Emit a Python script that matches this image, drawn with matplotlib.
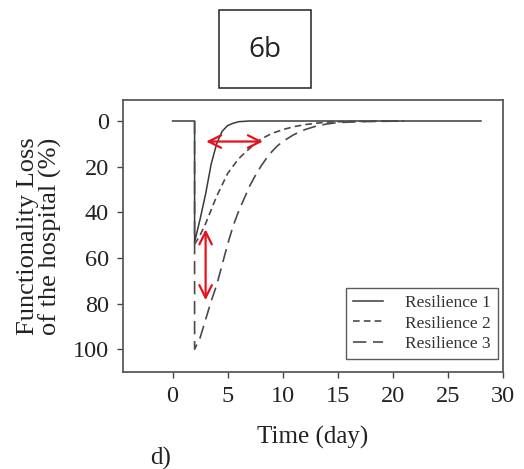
import matplotlib
matplotlib.use('Agg')
import matplotlib.pyplot as plt
from matplotlib.patches import Rectangle

# Curvas de perda de funcionalidade do hospital (% de perda x dias)
tempo1 = [0, 2, 2, 2.5, 3, 3.5, 4, 4.5, 5, 5.5, 6, 7, 10, 28]
perda1 = [0, 0, 53, 43, 32, 19, 10, 4.5, 2, 1, 0.3, 0, 0, 0]

tempo2 = [2, 2.5, 3, 3.5, 4, 4.5, 5, 6, 7, 8, 9, 10, 11, 12, 13, 14, 16, 18, 21]
perda2 = [54, 50, 45, 39, 33, 28, 23, 16.5, 12, 8, 5.5, 3.8, 2.5, 1.6, 1, 0.5, 0.2, 0.1, 0]

tempo3 = [2, 2, 2.5, 3, 3.5, 4, 4.5, 5, 5.5, 6, 6.5, 7, 7.5, 8, 8.5, 9, 9.5, 10, 11, 12, 13, 14, 15, 17, 21]
perda3 = [0, 100, 95, 87, 79, 72, 63, 54, 46, 39.5, 34, 28.5, 24, 20, 16.5, 13.5, 11, 9, 6, 3.8, 2.3, 1.3, 0.7, 0.3, 0]

nomes = ['Resilience 1', 'Resilience 2', 'Resilience 3']
xticks = [0, 5, 10, 15, 20, 25, 30]
yticks = [0, 20, 40, 60, 80, 100]

fig = plt.figure(figsize=(5.24, 4.69), dpi=100)
ax = fig.add_axes([123 / 524, 1 - 372 / 469, 380 / 524, 272 / 469])

serif = 'Liberation Serif'

ax.plot(tempo1, perda1, color='#3a3a3a', lw=1.1, label=nomes[0])
ax.plot(tempo2, perda2, color='#4a4a4a', lw=1.2, dashes=(4, 2.5), label=nomes[1])
ax.plot(tempo3, perda3, color='#4a4a4a', lw=1.2, dashes=(8, 4), label=nomes[2])

# Setas vermelhas
seta = dict(arrowstyle='<->,head_length=0.9,head_width=0.45', color='#e8101a', lw=1.6,
            shrinkA=0, shrinkB=0)
ax.annotate('', xy=(3.05, 9), xytext=(8.2, 9), arrowprops=seta)
ax.annotate('', xy=(3.0, 47.5), xytext=(3.0, 78.5), arrowprops=seta)

ax.set_xlim(-4.5, 30)
ax.set_ylim(110, -9.2)
ax.set_xticks(xticks)
ax.set_yticks(yticks)
ax.tick_params(direction='out', length=4, width=1, color='#444444', labelsize=17.5, pad=6)
for lbl in ax.get_xticklabels() + ax.get_yticklabels():
    lbl.set_fontfamily(serif)
    lbl.set_color('#222222')
for s in ax.spines.values():
    s.set_color('#5a5a5a')
    s.set_linewidth(1.3)

ax.set_xlabel('Time (day)', fontfamily=serif, fontsize=18, color='#222222', labelpad=14)
ax.set_ylabel('Functionality Loss\nof the hospital (%)', fontfamily=serif, fontsize=19,
              color='#222222', labelpad=8, linespacing=0.95)

leg = ax.legend(loc='lower right', bbox_to_anchor=(498 / 380 - 123 / 380, (372 - 359) / 272),
                bbox_transform=ax.transAxes, prop={'family': serif, 'size': 12.5},
                frameon=True, fancybox=False, edgecolor='#333333', handlelength=1.7,
                handletextpad=1.3, borderpad=0.4, labelspacing=0.25, borderaxespad=0)
leg.get_frame().set_linewidth(1.0)
for t in leg.get_texts():
    t.set_color('#333333')

# Caixa do rótulo "6b"
fig.patches.append(Rectangle((219 / 524, 1 - 88 / 469), 92 / 524, 78 / 469,
                             transform=fig.transFigure, fill=False, edgecolor='#222222', lw=1.1))
fig.text(265 / 524, 1 - 50 / 469, '6b', fontfamily='Open Sans', fontsize=20,
         ha='center', va='center', color='#222222')

fig.text(161 / 524, 1 - 458 / 469, 'd)', fontfamily=serif, fontsize=18,
         ha='center', va='center', color='#222222')

fig.savefig('out.png', dpi=100)
